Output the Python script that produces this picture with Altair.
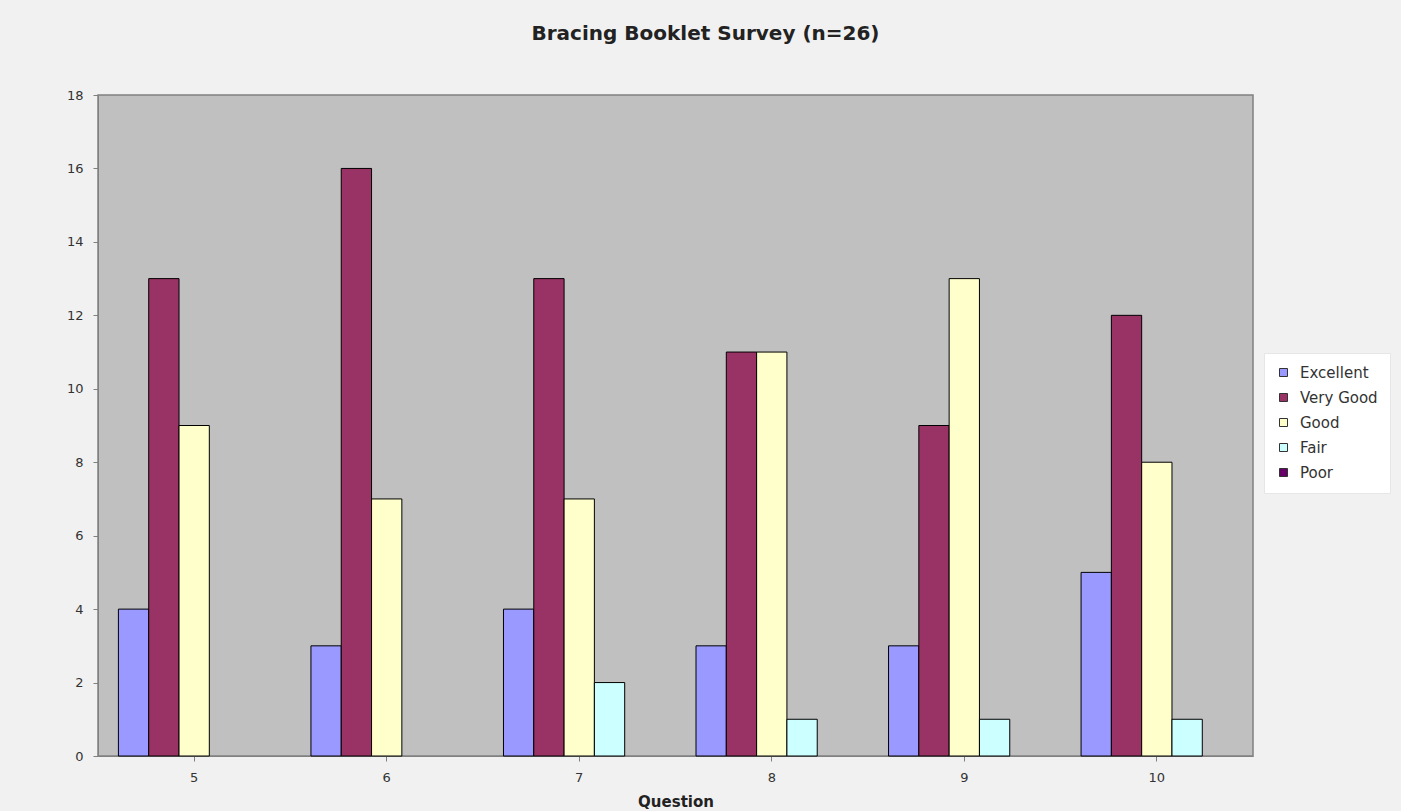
import altair as alt
import pandas as pd

questions = ["5", "6", "7", "8", "9", "10"]
ratings = ["Excellent", "Very Good", "Good", "Fair", "Poor"]
excellent = [4, 3, 4, 3, 3, 5]
very_good = [13, 16, 13, 11, 9, 12]
good = [9, 7, 7, 11, 13, 8]
fair = [0, 0, 2, 1, 1, 1]
poor = [0, 0, 0, 0, 0, 0]
colors = ["#9999FF", "#993366", "#FFFFCC", "#CCFFFF", "#660066"]

series = [excellent, very_good, good, fair, poor]
rows = []
for rating, vals in zip(ratings, series):
    for q, v in zip(questions, vals):
        rows.append({"Question": q, "Rating": rating, "Count": v})
df = pd.DataFrame(rows)

FONT = "DejaVu Sans"

bars = alt.Chart(df).transform_filter(
    alt.datum.Count > 0
).mark_bar(stroke="#000000", strokeWidth=1).encode(
    x=alt.X("Question:N", sort=questions,
            scale=alt.Scale(paddingInner=0.213, paddingOuter=0.106),
            axis=alt.Axis(title="Question", labelAngle=0, labelFontSize=13,
                          labelPadding=10, titleFontSize=15, titleFontWeight="bold",
                          titlePadding=10, tickSize=5, tickColor="#808080",
                          domainColor="#808080", labelColor="#333333",
                          titleColor="#222222", labelFont=FONT, titleFont=FONT)),
    xOffset=alt.XOffset("Rating:N", sort=ratings,
                        scale=alt.Scale(domain=ratings, paddingInner=0, paddingOuter=0)),
    y=alt.Y("Count:Q", scale=alt.Scale(domain=[0, 18]),
            axis=alt.Axis(title=None, values=list(range(0, 19, 2)), grid=False,
                          labelFontSize=13, labelPadding=10, tickSize=5,
                          tickColor="#808080", domainColor="#808080",
                          labelColor="#333333", labelFont=FONT)),
    color=alt.Color("Rating:N", sort=ratings,
                    scale=alt.Scale(domain=ratings, range=colors),
                    legend=alt.Legend(title=None, orient="none", legendX=1166, legendY=258,
                                      symbolType="square", symbolSize=64,
                                      symbolStrokeColor="#333333", symbolStrokeWidth=1,
                                      labelFontSize=15, labelFont=FONT, labelOffset=9,
                                      labelColor="#333333", rowPadding=9,
                                      fillColor="#ffffff", strokeColor="#e6e6e6",
                                      padding=12)),
)

chart = bars.properties(
    width=1155,
    height=661,
    title=alt.TitleParams("Bracing Booklet Survey (n=26)", fontSize=20,
                          font=FONT, fontWeight="bold", color="#222222",
                          anchor="middle", frame="group", dx=30, offset=45),
    background="#f1f1f1",
    padding={"left": 98, "top": 95, "right": 148, "bottom": 55},
    autosize=alt.AutoSizeParams(type="none"),
).configure_view(
    fill="#c0c0c0", stroke="#808080", strokeWidth=1.5,
)

chart.save("out.html", embed_options={"renderer": "svg", "actions": False})
